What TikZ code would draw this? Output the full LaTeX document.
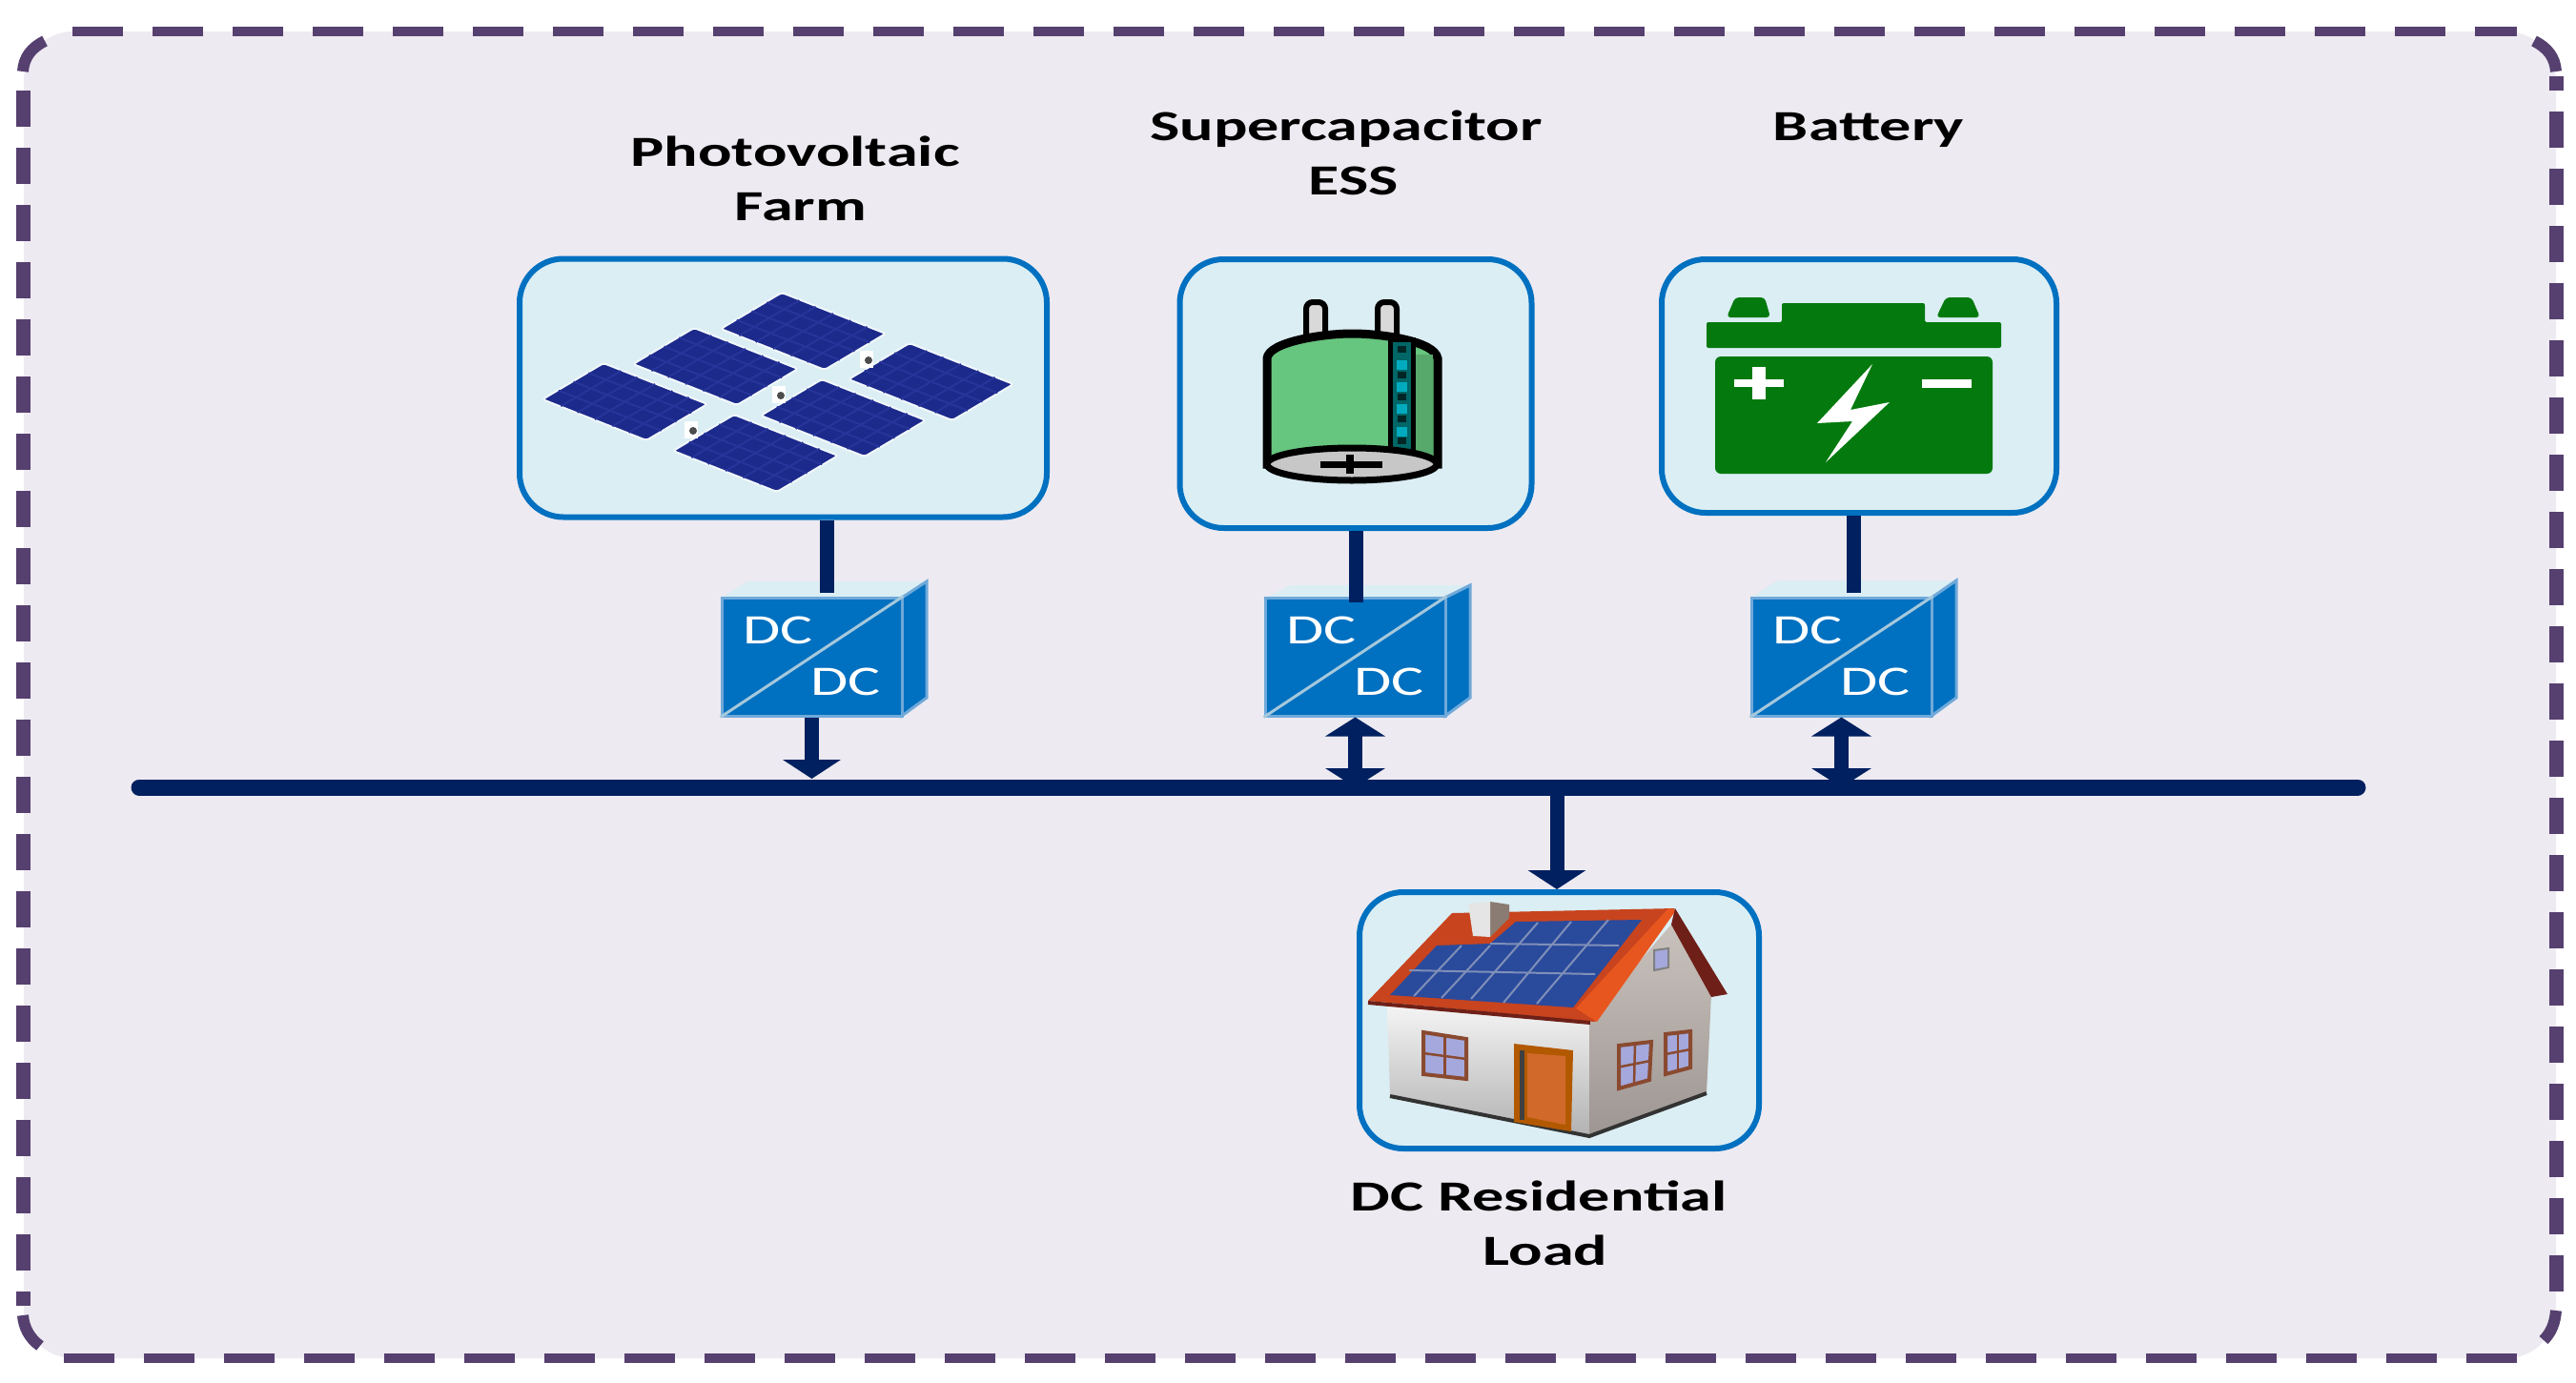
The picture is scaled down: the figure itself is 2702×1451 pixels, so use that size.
\documentclass[tikz,border=0pt]{standalone}
\usepackage{fontspec}
\setmainfont{Carlito}
\usetikzlibrary{arrows.meta,calc}
\definecolor{framefill}{HTML}{EDEAF1}
\definecolor{frameline}{HTML}{56406F}
\definecolor{boxfill}{HTML}{DBEEF4}
\definecolor{boxline}{HTML}{0070C0}
\definecolor{convedge}{HTML}{6FA9D9}
\definecolor{convdiag}{HTML}{A5C8DC}
\definecolor{busblue}{HTML}{002060}
\definecolor{panelblue}{HTML}{1C2A8C}
\definecolor{panelcell}{HTML}{27359A}
\definecolor{capgreen}{HTML}{66C57E}
\definecolor{batgreen}{HTML}{047A0E}
\definecolor{roofred}{HTML}{C8441E}
\definecolor{rooforange}{HTML}{E8561F}
\definecolor{roofdark}{HTML}{6E2018}
\definecolor{roofpanel}{HTML}{2A4A9C}
\definecolor{roofgrid}{HTML}{7F8FB8}
\definecolor{doororange}{HTML}{D0692A}
\definecolor{winframe}{HTML}{8A4A30}
\definecolor{winpane}{HTML}{A4A8DC}
\definecolor{sidetop}{HTML}{C9C1BC}
\definecolor{sidelow}{HTML}{9E9692}
\definecolor{chimside}{HTML}{8A7C72}
\begin{document}
\begin{tikzpicture}[x=1pt,y=-1pt]

    \tikzset{
      iconbox/.style={
        draw=boxline,
        fill=boxfill,
        line width=6pt,
        rounded corners=46pt,
        inner sep=0pt,
      },
      convfront/.style={
        draw=convedge,
        fill=boxline,
        line width=3pt,
        inner sep=0pt,
        minimum width=189pt,
        minimum height=124pt,
      },
      dctext/.style={
        text=white,
        font=\fontsize{44}{50}\selectfont,
        anchor=base,
        xscale=1.45,
        transform shape,
        inner sep=0pt,
      },
      title/.style={
        text=black,
        font=\bfseries\fontsize{45}{54}\selectfont,
        anchor=base,
        xscale=1.47,
        transform shape,
        inner sep=0pt,
      },
      wire/.style={busblue,line width=15pt},
      oneway/.style={wire,-{Triangle[width=60pt,length=20pt]}},
      twoway/.style={wire,{Triangle[width=62pt,length=20pt]}-{Triangle[width=62pt,length=20pt]}},
    }
    \useasboundingbox (0,0) rectangle (2702,1451);

    % outer frame
    \fill[framefill,rounded corners=52pt] (25,33) rectangle (2681,1425);
    \draw[frameline,line width=10pt,dash pattern=on 53pt off 31pt] (76,33)--(2640,33);
    \draw[frameline,line width=10pt,dash pattern=on 53pt off 31pt] (2640,1425)--(60,1425);
    \draw[frameline,line width=15pt,dash pattern=on 38pt off 22pt] (24.5,95)--(24.5,1370);
    \draw[frameline,line width=15pt,dash pattern=on 38pt off 22pt] (2681,1355)--(2681,80);
    \draw[frameline,line width=12pt] (24,75) .. controls (25,60) and (33,50) .. (47,43);
    \draw[frameline,line width=12pt] (2681,1375) .. controls (2680,1388) and (2676,1398) .. (2668,1406);
    \draw[frameline,line width=12pt] (2681,75) .. controls (2680,60) and (2672,50) .. (2658,43);
    \draw[frameline,line width=12pt] (24,1380) .. controls (25,1393) and (31,1404) .. (42,1412);

    % source and load boxes
    \node[iconbox,minimum width=553pt,minimum height=271pt] (pvbox) at (821.5,407) {};
    \node[iconbox,minimum width=369pt,minimum height=282pt] (capbox) at (1422,413) {};
    \node[iconbox,minimum width=414pt,minimum height=266pt] (batbox) at (1950,405) {};
    \node[iconbox,minimum width=419pt,minimum height=269pt] (loadbox) at (1635.5,1070.5) {};

    % solar panels
    \foreach \px/\py in {570/419,665/382,757/345,707/473,799/436,891/398}{
      \draw[white!60!boxfill,fill=panelblue,line width=2pt,rounded corners=3pt] ({\px-1},\py)--({\px+63},{\py-38})--({\px+172},{\py+5})--({\px+108},{\py+43})--cycle;
      \foreach \f in {0.25,0.5,0.75}
        \draw[panelcell,line width=2pt] ({\px+\f*63},{\py-\f*37})--({\px+\f*63+108},{\py-\f*37+42});
      \foreach \f in {0.17,0.33,0.5,0.67,0.83}
        \draw[panelcell,line width=2pt] ({\px+\f*108},{\py+\f*42})--({\px+\f*108+63},{\py+\f*42-37});
    }
    \foreach \px/\py in {911/378,819/415,727/452}{
      \fill[white] ({\px-9},{\py-10}) rectangle ({\px+5},{\py+8});
      \fill[black!70] (\px,\py) circle (4);
    }

    % supercapacitor
    \foreach \tx in {1380,1455}{
      \draw[black,fill=black!15,line width=6pt,rounded corners=7pt] ({\tx-10},352)--({\tx-10},317)--({\tx+10},317)--({\tx+10},352);
    }
    \draw[black,fill=capgreen,line width=9pt] (1329,487)--(1329,376) .. controls (1331,358) and (1390,350) .. (1418,350) .. controls (1450,350) and (1505,358) .. (1508,376)--(1508,487)--cycle;
    \fill[capgreen!85!black] (1484,372) rectangle (1503,480);
    \draw[black,fill=teal!80!black,line width=5pt] (1458,356) rectangle (1482,475);
    \foreach \dy in {378,401,424,448}
      \fill[cyan!70!green] (1465,\dy) rectangle (1476,{\dy+10});
    \foreach \dy in {363,390,413,436,459}
      \fill[black!70!teal] (1466,\dy) rectangle (1475,{\dy+7});
    \draw[black,fill=black!22,line width=7pt] (1418,487) ellipse [x radius=89,y radius=17];
    \draw[black,line width=7pt] (1385,487)--(1450,487);
    \draw[black,line width=8pt] (1416,477)--(1416,497);

    % battery
    \fill[batgreen,rounded corners=2pt] (1790,365)--(1790,338)--(1869,338)--(1869,318)--(2019,318)--(2019,338)--(2099,338)--(2099,365)--cycle;
    \fill[batgreen,rounded corners=4pt] (1811,333)--(1820,312)--(1851,312)--(1857,333)--cycle;
    \fill[batgreen,rounded corners=4pt] (2031,333)--(2041,312)--(2068,312)--(2077,333)--cycle;
    \fill[batgreen,rounded corners=6pt] (1799,374) -- (2090,374) -- (2090,497) -- (1799,497) -- cycle;
    \fill[white] (1819,398) rectangle (1871,406);
    \fill[white] (1838,385) rectangle (1852,419);
    \fill[white] (2016,398) rectangle (2068,407);
    \fill[white] (1964,382)--(1906,444)--(1943,442)--(1915,485)--(1982,422)--(1941,430)--cycle;

    % house
    \shade[top color=black!4,bottom color=black!30] (1455,1053)--(1667,1070)--(1667,1190)--(1458,1150)--cycle;
    \shade[top color=sidetop,bottom color=sidelow] (1667,1070)--(1753,970)--(1795,1043)--(1790,1147)--(1667,1190)--cycle;
    \draw[black!80,line width=4pt] (1458,1150)--(1667,1192)--(1790,1147);
    \fill[roofred] (1435,1050)--(1523,958)--(1757,953)--(1673,1072)--cycle;
    \fill[chimside] (1563,946)--(1583,949)--(1583,963)--(1563,983)--cycle;
    \fill[black!10] (1540,948)--(1563,946)--(1563,983)--(1545,982)--cycle;
    \fill[rooforange] (1750,953)--(1758,955)--(1675,1072)--(1653,1058)--cycle;
    \fill[roofdark] (1757,953)--(1812,1043)--(1795,1046)--(1753,970)--cycle;
    \draw[roofdark,line width=4pt] (1435,1052)--(1668,1073);
    \fill[roofpanel] (1458,1044)--(1507,992)--(1563,990)--(1590,967)--(1722,965)--(1650,1057)--cycle;
    \foreach \ax/\ay/\bx/\by in {1478/1018/1673/1022,1563/990/1698/992,1483/1045/1533/992,1512/1047/1563/992,1543/1048/1613/968,1577/1052/1648/967,1612/1053/1687/965}
      \draw[roofgrid,line width=2pt] (\ax,\ay)--(\bx,\by);
    \foreach \ax/\ay/\bx/\by/\cx/\cy/\dx/\dy in {1493/1083/1538/1090/1538/1132/1493/1127,1698/1097/1732/1093/1730/1133/1698/1142,1747/1085/1773/1082/1773/1120/1747/1127}{
      \draw[winframe,fill=winpane,line width=4pt] (\ax,\ay)--(\bx,\by)--(\cx,\cy)--(\dx,\dy)--cycle;
      \draw[winframe,line width=2.5pt] ($(\ax,\ay)!.5!(\dx,\dy)$)--($(\bx,\by)!.5!(\cx,\cy)$);
      \draw[winframe,line width=2.5pt] ($(\ax,\ay)!.5!(\bx,\by)$)--($(\dx,\dy)!.5!(\cx,\cy)$);
    }
    \draw[black!50,fill=winpane,line width=2pt] (1735,997)--(1750,995)--(1750,1015)--(1735,1018)--cycle;
    \fill[orange!70!black] (1588,1095)--(1650,1102)--(1648,1187)--(1588,1177)--cycle;
    \fill[doororange] (1602,1105)--(1642,1108)--(1642,1180)--(1602,1172)--cycle;
    \fill[black!75] (1594,1102) rectangle (1599,1175);

    % converters
    \foreach \cname/\cx/\ct in {pvconv/757/610,capconv/1327/614,batconv/1837/609}{
      \fill[boxfill] (\cx,627)--({\cx+27},\ct)--({\cx+215},\ct)--({\cx+189},627)--cycle;
      \draw[convedge,fill=boxline,line width=3pt] ({\cx+189},627)--({\cx+215},\ct)--({\cx+215},732)--({\cx+189},751)--cycle;
      \node[convfront] (\cname) at ({\cx+94.5},689) {};
      \draw[convdiag,line width=3pt] (\cname.south west)--(\cname.north east);
      \node[dctext] (\cname-in) at ({\cx+59},675) {DC};
      \node[dctext] (\cname-out) at ({\cx+130},729) {DC};
    }

    % bus and connections
    \coordinate (busleft) at (146,826);
    \coordinate (busright) at (2473,826);
    \coordinate (bustop) at (146,817);
    \coordinate (pvwire) at (867,622);
    \coordinate (capwire) at (1422,632);
    \coordinate (batwire) at (1944,622);
    \coordinate (loadtap) at (1633,826);
    \draw[wire] (pvbox.south -| pvwire)--(pvwire);
    \draw[wire] (capbox.south -| capwire)--(capwire);
    \draw[wire] (batbox.south -| batwire)--(batwire);
    \draw[oneway] (pvconv.south)--(pvconv.south |- bustop);
    \draw[twoway] (capconv.south)--(capconv.south |- busleft);
    \draw[twoway] (batconv.south)--(batconv.south |- busleft);
    \draw[busblue,line width=17pt,line cap=round] (busleft)--(busright);
    \draw[oneway] (loadtap)--(loadtap |- loadbox.north);

    % labels
    \node[title] (pvlabel) at (834,174) {Photovoltaic};
    \node[title] (pvlabelb) at (840,231) {Farm};
    \node[title] (caplabel) at (1412,147) {Supercapacitor};
    \node[title] (caplabelb) at (1420,204) {ESS};
    \node[title] (batlabel) at (1960,147) {Battery};
    \node[title] (loadlabel) at (1614,1270) {DC Residential};
    \node[title] (loadlabelb) at (1621,1327) {Load};

\end{tikzpicture}
\end{document}
